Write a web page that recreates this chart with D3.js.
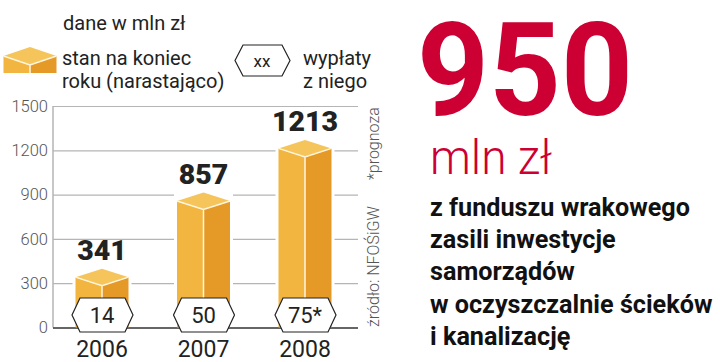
<!DOCTYPE html>
<html>
<head>
<meta charset="utf-8">
<script src="https://cdn.jsdelivr.net/npm/d3@7"></script>
<style>
    html, body { margin: 0; padding: 0; background: #fff; }
    svg { display: block; }
    text { font-family: Roboto, sans-serif; }
</style>
</head>
<body>
<div id="chart"></div>
<script>
const years = ["2006", "2007", "2008"];
const balance = [341, 857, 1213];
const payouts = ["14", "50", "75*"];
const yTicks = [0, 300, 600, 900, 1200, 1500];
const descLines = ["z funduszu wrakowego", "zasili inwestycje", "samorządów", "w oczyszczalnie ścieków", "i kanalizację"];

const dims = {width: 720, height: 362};
const plot = {left: 53, right: 358, top: 106, bottom: 327.5};
const cube = {width: 53, rise: 8.5};

const colors = {front: "#f2b53f", side: "#e59a28", top: "#f5c55c", red: "#cc0033", ink: "#222", grey: "#555", grid: "#b5b5b5"};

const svg = d3.select("#chart")
    .append("svg")
    .attr("width", dims.width)
    .attr("height", dims.height);

const xScale = d3.scalePoint()
    .domain(years)
    .range([102, 305]);

const yScale = d3.scaleLinear()
    .domain([0, 1500])
    .range([plot.bottom, plot.top]);

// axis and grid
const axis = svg.append("g")
    .attr("transform", `translate(${plot.left},0)`)
    .call(d3.axisLeft(yScale).tickValues(yTicks).tickFormat(d3.format("d")).tickSize(-(plot.right - plot.left)).tickPadding(6));

axis.select(".domain").attr("stroke", colors.grid).attr("stroke-width", 1.5).attr("d", `M0,${plot.top}V${plot.bottom}`);
axis.selectAll(".tick line").attr("stroke", colors.grid).attr("stroke-width", 1.2);
axis.selectAll(".tick text").attr("fill", colors.grey).style("font-size", "16.5px").style("font-weight", 300).attr("x", -5);
axis.selectAll(".tick").filter(d => d === 0).select("line").attr("stroke", "#333").attr("stroke-width", 1.5);

// the isometric block, h = height of the side walls
const drawCube = (g, cx, base, w, h, rise) => {
    const hw = w / 2;
    const top = base - h;
    g.append("path").attr("d", `M${cx - hw},${top}L${cx},${top + rise}V${base}H${cx - hw}Z`).attr("fill", colors.front);
    g.append("path").attr("d", `M${cx + hw},${top}L${cx},${top + rise}V${base}H${cx + hw}Z`).attr("fill", colors.side);
    g.append("path").attr("d", `M${cx - hw},${top}L${cx},${top - rise}L${cx + hw},${top}L${cx},${top + rise}Z`).attr("fill", colors.top);
    g.append("path")
        .attr("d", `M${cx - hw},${top}L${cx},${top + rise}L${cx + hw},${top}M${cx},${top + rise}V${base}`)
        .attr("fill", "none").attr("stroke", "#fff6df").attr("stroke-width", 1.5);
};

const hexagon = (g, cx, cy, hw, hh, inset) => {
    g.append("path")
        .attr("d", `M${cx - hw},${cy}L${cx - hw + inset},${cy - hh}H${cx + hw - inset}L${cx + hw},${cy}L${cx + hw - inset},${cy + hh}H${cx - hw + inset}Z`)
        .attr("fill", "#fff").attr("stroke", "#222").attr("stroke-width", 1.2);
};

years.forEach((year, i) => {
    const cx = xScale(year);
    const base = plot.bottom;
    const g = svg.append("g");

    // white halo that cuts the grid lines around the bar
    g.append("rect")
        .attr("x", cx - cube.width / 2 - 3)
        .attr("y", yScale(balance[i]) - cube.rise)
        .attr("width", cube.width + 6)
        .attr("height", base - 1 - yScale(balance[i]) + cube.rise)
        .attr("fill", "#fff");

    drawCube(g, cx, base, cube.width, base - yScale(balance[i]), cube.rise);

    g.append("text")
        .attr("x", cx)
        .attr("y", yScale(balance[i]) - 17)
        .attr("text-anchor", "middle")
        .attr("fill", colors.ink)
        .style("font-size", "28.5px")
        .style("font-weight", 900)
        .text(balance[i]);

    hexagon(g, cx + 0.5, 315, 30.5, 17, 8);

    g.append("text")
        .attr("x", cx)
        .attr("y", 323)
        .attr("text-anchor", "middle")
        .attr("fill", colors.ink)
        .style("font-size", "22px")
        .text(payouts[i]);

    g.append("text")
        .attr("x", cx)
        .attr("y", 357)
        .attr("text-anchor", "middle")
        .attr("fill", colors.ink)
        .style("font-size", "23px")
        .text(year);
});

// legend
const legendText = (x, y, str) => svg.append("text")
    .attr("x", x).attr("y", y)
    .attr("fill", colors.ink)
    .style("font-size", "20px")
    .text(str);

legendText(63, 30, "dane w mln zł");
legendText(62, 65, "stan na koniec");
legendText(62, 88, "roku (narastająco)");
legendText(303, 65, "wypłaty");
legendText(303, 88, "z niego");

drawCube(svg.append("g"), 30, 73, 53, 17, 9);
hexagon(svg.append("g"), 262.5, 60.5, 27.5, 15.5, 8);

svg.append("text")
    .attr("x", 262).attr("y", 67)
    .attr("text-anchor", "middle")
    .attr("fill", colors.ink)
    .style("font-size", "17px")
    .text("xx");

// side notes
const sideNote = (x, y, str) => svg.append("text")
    .attr("transform", `translate(${x},${y}) rotate(-90)`)
    .attr("fill", colors.grey)
    .style("font-size", "16px")
    .style("font-weight", 300)
    .text(str);

sideNote(379, 327, "źródło: NFOŚiGW");
sideNote(379, 180, "*prognoza");

// headline
svg.append("text")
    .attr("x", 417).attr("y", 115)
    .attr("textLength", 216)
    .attr("lengthAdjust", "spacingAndGlyphs")
    .attr("fill", colors.red)
    .style("font-size", "130px")
    .style("font-weight", 700)
    .text("950");

svg.append("text")
    .attr("x", 430).attr("y", 174)
    .attr("textLength", 122)
    .attr("lengthAdjust", "spacingAndGlyphs")
    .attr("fill", colors.red)
    .style("font-size", "48px")
    .style("font-weight", 300)
    .text("mln zł");

svg.selectAll(".desc")
    .data(descLines)
    .join("text")
    .attr("class", "desc")
    .attr("x", 430)
    .attr("y", (d, i) => 216 + i * 32.2)
    .attr("fill", "#111")
    .style("font-size", "25.2px")
    .style("font-weight", 700)
    .text(d => d);
</script>
</body>
</html>
